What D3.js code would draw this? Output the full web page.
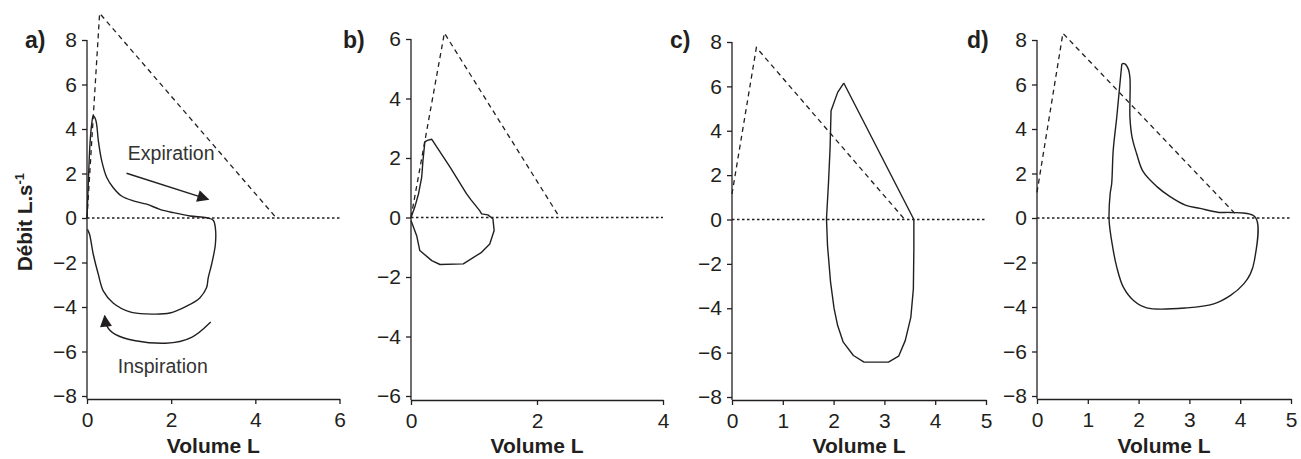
<!DOCTYPE html>
<html><head><meta charset="utf-8">
<script src="https://cdn.jsdelivr.net/npm/d3@7"></script>
<style>body{margin:0;background:#fff} svg{display:block}</style>
</head><body><svg id="chart" width="1301" height="459"></svg>
<script>
// ---------- DATA ----------
const panelLabels = ["a)", "b)", "c)", "d)"];
const xTicksA = [0, 2, 4, 6];
const xTicksB = [0, 2, 4];
const xTicksCD = [0, 1, 2, 3, 4, 5];
const yTicks8 = [-8, -6, -4, -2, 0, 2, 4, 6, 8];
const yTicks6 = [-6, -4, -2, 0, 2, 4, 6];
const xLabel = "Volume L";
const yLabelMain = "Débit L.s";
const yLabelSup = "-1";

// measured flow-volume loops [volume L, flow L/s]
const loopA = [[0,0],[0.03,1.52],[0.07,3.3],[0.11,4.2],[0.15,4.6],[0.2,4.45],[0.23,4.2],[0.27,3.47],[0.35,2.57],[0.47,1.82],[0.62,1.37],[0.82,0.99],[1.1,0.77],[1.42,0.62],[1.73,0.39],[2.05,0.24],[2.45,0.09],[2.84,0.01],[3.0,-0.1],[3.05,-0.44],[3.05,-1.19],[2.96,-2.09],[2.88,-2.69],[2.84,-3.14],[2.68,-3.59],[2.37,-3.96],[1.97,-4.27],[1.42,-4.31],[1.02,-4.22],[0.62,-3.82],[0.39,-3.29],[0.27,-2.54],[0.15,-1.64],[0.06,-0.73],[0.01,-0.51]];
const loopB = [[0,0],[0.06,0.35],[0.12,0.8],[0.17,1.36],[0.19,1.92],[0.22,2.54],[0.26,2.59],[0.33,2.63],[0.62,1.69],[0.88,0.8],[0.95,0.6],[1.09,0.23],[1.12,0.12],[1.22,0.09],[1.3,-0.04],[1.32,-0.44],[1.25,-0.89],[1.12,-1.17],[0.83,-1.56],[0.46,-1.58],[0.33,-1.45],[0.14,-1.11],[0.09,-0.61],[0,-0.1]];
const loopC = [[2.2,6.15],[2.08,5.73],[1.95,4.9],[1.93,3.18],[1.9,1.68],[1.86,0.03],[1.88,-1.17],[1.94,-2.82],[2.01,-4.02],[2.08,-4.78],[2.19,-5.53],[2.39,-6.13],[2.6,-6.43],[3.08,-6.43],[3.28,-6.16],[3.41,-5.46],[3.52,-4.41],[3.57,-3.14],[3.58,-1.34],[3.58,0],[2.2,6.15]];
const loopD = [[1.67,6.93],[1.73,6.93],[1.8,6.68],[1.83,6.3],[1.83,4.5],[1.87,3.65],[1.96,2.9],[2.09,2.08],[2.36,1.41],[2.62,0.96],[2.92,0.58],[3.21,0.43],[3.58,0.25],[3.81,0.25],[4.3,0.03],[4.28,-1.91],[4.2,-2.51],[4.07,-2.96],[3.81,-3.48],[3.48,-3.86],[2.95,-4.04],[2.16,-4.04],[1.9,-3.71],[1.7,-3.11],[1.57,-2.21],[1.49,-1.31],[1.42,-0.11],[1.44,1.09],[1.47,1.54],[1.5,3.03],[1.57,4.53],[1.62,5.74],[1.67,6.93]];

// predicted envelopes (dashed)
const predA = [[0,0],[0.3,9.2],[4.5,0]];
const predB = [[0,0],[0.53,6.2],[2.36,0]];
const predC = [[0,1.15],[0.48,7.75],[3.4,0]];
const predD = [[0,1.15],[0.51,8.3],[3.94,0.1]];

// annotations in panel a
const expArrow = [[0.94,2.01],[2.88,0.84]];
const inspArrow = [[2.94,-4.67],[2.52,-5.46],[1.89,-5.69],[1.1,-5.54],[0.62,-5.24],[0.45,-4.86],[0.42,-4.4]];
const annotations = [{text:"Expiration", x:2.0, y:2.6}, {text:"Inspiration", x:1.8, y:-6.95}];

// ---------- LAYOUT ----------
const FONT = "'Liberation Sans', Arial, Helvetica, sans-serif";
const INK = "#231f20";
const panels = [
  {label:panelLabels[0], xTicks:xTicksA, yTicks:yTicks8, loop:loopA, pred:predA, smooth:true,  L:87,   R:339.5, T:40, B:396, axisY:399, lx:25},
  {label:panelLabels[1], xTicks:xTicksB, yTicks:yTicks6, loop:loopB, pred:predB, smooth:false, L:411,  R:663,   T:39, B:396, axisY:400, lx:343},
  {label:panelLabels[2], xTicks:xTicksCD, yTicks:yTicks8, loop:loopC, pred:predC, smooth:false, L:732, R:986,   T:42, B:397, axisY:400, lx:670},
  {label:panelLabels[3], xTicks:xTicksCD, yTicks:yTicks8, loop:loopD, pred:predD, smooth:true,  L:1037, R:1291,  T:40, B:396, axisY:399, lx:967}
];

const svg = d3.select("#chart");
const defs = svg.append("defs");
defs.append("marker").attr("id","ah").attr("viewBox","0 0 10 10").attr("refX",9).attr("refY",5)
  .attr("markerWidth",13).attr("markerHeight",12).attr("markerUnits","userSpaceOnUse").attr("orient","auto")
  .append("path").attr("d","M0,0L10,5L0,10Z").attr("fill",INK);

panels.forEach((p, i) => {
  const x = d3.scaleLinear().domain([0, d3.max(p.xTicks)]).range([p.L, p.R]);
  const y = d3.scaleLinear().domain([d3.min(p.yTicks), d3.max(p.yTicks)]).range([p.B, p.T]);
  const g = svg.append("g");

  // axes
  const xa = g.append("g").attr("transform", `translate(0,${p.axisY})`)
    .call(d3.axisBottom(x).tickValues(p.xTicks).tickSize(5).tickSizeOuter(0).tickPadding(8).tickFormat(d3.format("d")));
  const ya = g.append("g").attr("transform", `translate(${p.L},0)`)
    .call(d3.axisLeft(y).tickValues(p.yTicks).tickSize(5).tickSizeOuter(0).tickPadding(5).tickFormat(d3.format("d")));
  ya.select(".domain").remove();
  g.append("line").attr("x1",p.L).attr("x2",p.L).attr("y1",p.T).attr("y2",p.axisY)
    .attr("stroke",INK).attr("stroke-width",1.3);
  [xa, ya].forEach(a => {
    a.selectAll("path,line").attr("stroke", INK).attr("stroke-width", 1.3);
    a.selectAll("text").attr("font-family", FONT).attr("font-size", 21).attr("fill", INK);
  });

  // zero line (dotted)
  g.append("line").attr("x1", x(0)).attr("x2", x(d3.max(p.xTicks))).attr("y1", y(0)).attr("y2", y(0))
    .attr("stroke", INK).attr("stroke-width", 1.3).attr("stroke-dasharray", "2.5,2.5");

  // predicted envelope (dashed)
  const lineGen = d3.line().x(d => x(d[0])).y(d => y(d[1]));
  g.append("path").attr("d", lineGen(p.pred)).attr("fill","none").attr("stroke",INK)
    .attr("stroke-width",1.3).attr("stroke-dasharray","5,4");

  // measured loop
  const loopGen = d3.line().x(d => x(d[0])).y(d => y(d[1]))
    .curve(p.smooth ? d3.curveCatmullRom.alpha(0.5) : d3.curveLinear);
  g.append("path").attr("d", loopGen(p.loop)).attr("fill","none").attr("stroke",INK)
    .attr("stroke-width",1.4).attr("stroke-linejoin","round");

  // panel label
  g.append("text").attr("x", p.lx).attr("y", 48).text(p.label)
    .attr("font-family", FONT).attr("font-weight","bold").attr("font-size",23).attr("fill",INK);

  // x axis title
  g.append("text").attr("x", (p.L + p.R)/2).attr("y", 453).attr("text-anchor","middle").text(xLabel)
    .attr("font-family", FONT).attr("font-weight","bold").attr("font-size",21).attr("fill",INK);

  if (i === 0) {
    g.append("path").attr("d", lineGen(expArrow)).attr("fill","none").attr("stroke",INK)
      .attr("stroke-width",1.4).attr("marker-end","url(#ah)");
    g.append("path").attr("d", d3.line().x(d=>x(d[0])).y(d=>y(d[1])).curve(d3.curveBasis)(inspArrow))
      .attr("fill","none").attr("stroke",INK).attr("stroke-width",1.4).attr("marker-end","url(#ah)");
    annotations.forEach(a => {
      g.append("text").attr("x", x(a.x)).attr("y", y(a.y)).attr("text-anchor","middle").text(a.text)
        .attr("font-family", FONT).attr("font-size",19.5).attr("fill","#333");
    });
  }
});

// y axis title
const yt = svg.append("text").attr("transform","translate(32,222) rotate(-90)").attr("text-anchor","middle")
  .attr("font-family", FONT).attr("font-weight","bold").attr("font-size",20.5).attr("fill",INK);
yt.append("tspan").text(yLabelMain);
yt.append("tspan").attr("font-size",13).attr("dy",-8).text(yLabelSup);
</script>
</body></html>
